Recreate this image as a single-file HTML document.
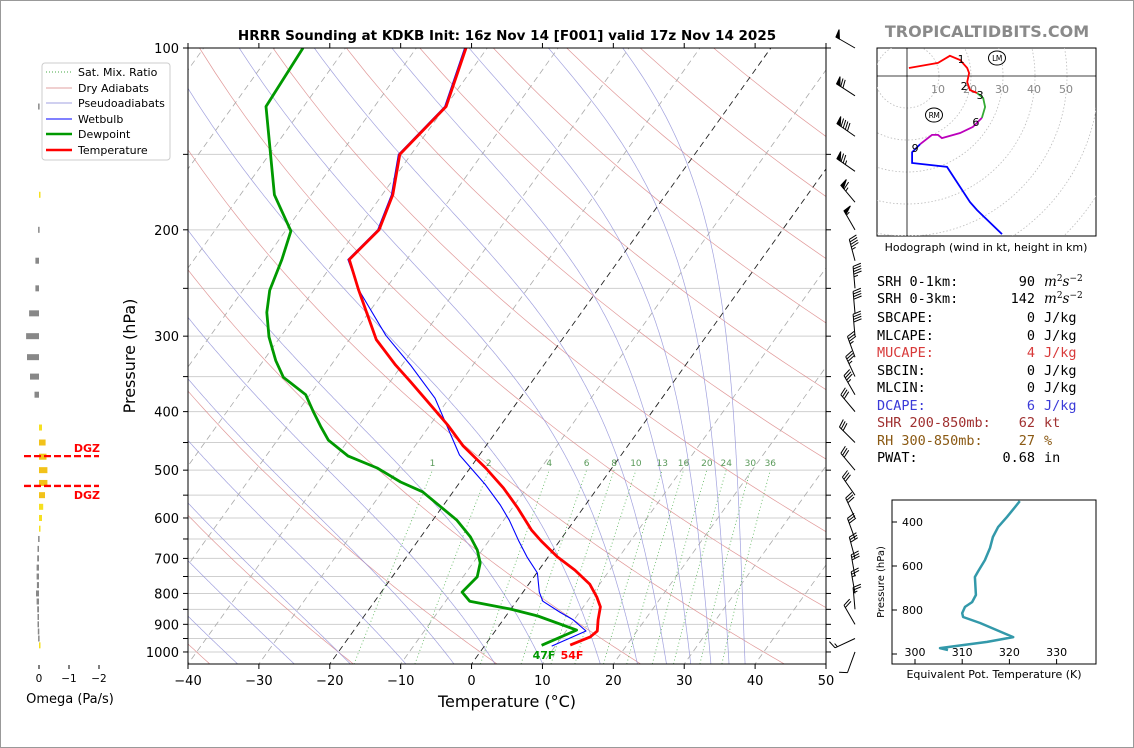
<!DOCTYPE html>
<html><head><meta charset="utf-8"><style>
html,body{margin:0;padding:0;background:#fff}
svg{display:block;font-family:"DejaVu Sans","Liberation Sans",sans-serif}
</style></head><body>
<svg id="chart" xmlns="http://www.w3.org/2000/svg" width="1134" height="748" viewBox="0 0 1134 748">
<rect x="0.5" y="0.5" width="1133" height="747" fill="#fff" stroke="#999"/>
<defs><clipPath id="mainClip"><rect x="188" y="48" width="638" height="616"/></clipPath>
<clipPath id="hodoClip"><rect x="877" y="48" width="219" height="188"/></clipPath>
<clipPath id="teClip"><rect x="892" y="500" width="204" height="164"/></clipPath></defs>
<g id="bg" clip-path="url(#mainClip)"></g>
<g id="profiles" clip-path="url(#mainClip)"></g>
<g id="axes"></g>
<g id="barbs"></g>
<g id="omega"></g>
<g id="hodo"></g>
<g id="te"></g>
<text x="507" y="40" text-anchor="middle" font-size="13.5" font-weight="bold">HRRR Sounding at KDKB Init: 16z Nov 14 [F001] valid 17z Nov 14 2025</text>
<text x="987" y="37" text-anchor="middle" font-size="16" font-weight="bold" fill="#8a8a8a">TROPICALTIDBITS.COM</text>
<text x="507" y="707" text-anchor="middle" font-size="16">Temperature (°C)</text>
<text transform="translate(135,356) rotate(-90)" text-anchor="middle" font-size="16">Pressure (hPa)</text>
<g>
<rect x="42" y="63" width="128" height="97" rx="3" fill="#fff" stroke="#ccc"/>
<g font-size="11">
<line x1="46" y1="72" x2="72" y2="72" stroke="#4a4" stroke-width="1" stroke-dasharray="1,2"/><text x="78" y="76">Sat. Mix. Ratio</text>
<line x1="46" y1="88" x2="72" y2="88" stroke="#e0a0a0"/><text x="78" y="92">Dry Adiabats</text>
<line x1="46" y1="103" x2="72" y2="103" stroke="#a0a0e0"/><text x="78" y="107">Pseudoadiabats</text>
<line x1="46" y1="119" x2="72" y2="119" stroke="#00f"/><text x="78" y="123">Wetbulb</text>
<line x1="46" y1="134" x2="72" y2="134" stroke="#090" stroke-width="2.5"/><text x="78" y="138">Dewpoint</text>
<line x1="46" y1="150" x2="72" y2="150" stroke="#f00" stroke-width="2.5"/><text x="78" y="154">Temperature</text>
</g></g>
<g font-family="DejaVu Sans Mono, Liberation Mono, monospace" font-size="13.5">
<text x="877" y="286">SRH 0-1km:</text><text x="1035" y="286" text-anchor="end">90</text><text x="1044" y="286" font-family="DejaVu Serif, serif" font-style="italic">m<tspan dy="-5" font-size="9" font-style="normal">2</tspan><tspan dy="5">s</tspan><tspan dy="-5" font-size="9" font-style="normal">−2</tspan></text>
<text x="877" y="303">SRH 0-3km:</text><text x="1035" y="303" text-anchor="end">142</text><text x="1044" y="303" font-family="DejaVu Serif, serif" font-style="italic">m<tspan dy="-5" font-size="9" font-style="normal">2</tspan><tspan dy="5">s</tspan><tspan dy="-5" font-size="9" font-style="normal">−2</tspan></text>
<text x="877" y="322">SBCAPE:</text><text x="1035" y="322" text-anchor="end">0</text><text x="1044" y="322">J/kg</text>
<text x="877" y="340">MLCAPE:</text><text x="1035" y="340" text-anchor="end">0</text><text x="1044" y="340">J/kg</text>
<g fill="#d83a3a"><text x="877" y="357">MUCAPE:</text><text x="1035" y="357" text-anchor="end">4</text><text x="1044" y="357">J/kg</text></g>
<text x="877" y="375">SBCIN:</text><text x="1035" y="375" text-anchor="end">0</text><text x="1044" y="375">J/kg</text>
<text x="877" y="392">MLCIN:</text><text x="1035" y="392" text-anchor="end">0</text><text x="1044" y="392">J/kg</text>
<g fill="#3a3ad8"><text x="877" y="410">DCAPE:</text><text x="1035" y="410" text-anchor="end">6</text><text x="1044" y="410">J/kg</text></g>
<g fill="#a03030"><text x="877" y="427">SHR 200-850mb:</text><text x="1035" y="427" text-anchor="end">62</text><text x="1044" y="427">kt</text></g>
<g fill="#8b5a14"><text x="877" y="445">RH 300-850mb:</text><text x="1035" y="445" text-anchor="end">27</text><text x="1044" y="445">%</text></g>
<text x="877" y="462">PWAT:</text><text x="1035" y="462" text-anchor="end">0.68</text><text x="1044" y="462">in</text>
</g>
</svg>
<script>
// ---- data ----
const tempP = [974,944,923,885,842,811,772,732,696,655,628,578,535,496,456,421,395,357,335,304,251,224,200,175,150,125,100];
const tempT = [12.0,14.0,14.4,13.4,12.4,10.9,8.6,5.1,1.3,-2.6,-5.1,-9.2,-13.3,-17.8,-23.2,-27.5,-31.2,-37.1,-40.9,-46.2,-53.8,-58.1,-56.9,-58.5,-61.6,-59.9,-63.0];
const dewP = [975,920,872,849,824,796,751,712,678,645,605,543,523,496,474,446,423,401,375,351,329,301,274,252,224,201,175,125,100];
const dewT = [8.0,11.4,4.5,-0.1,-6.6,-8.6,-8.0,-9.0,-10.7,-13.0,-16.6,-24.3,-28.4,-33.1,-38.4,-42.8,-45.3,-47.7,-50.6,-55.5,-58.3,-61.6,-64.4,-66.2,-67.6,-69.2,-75.2,-85.3,-86.0];
const wbP = [978,923,885,859,824,796,740,696,653,605,571,529,472,380,335,299,252,224,200,175,150,125,100];
const wbT = [9.5,12.8,9.9,7.2,3.7,2.3,0.1,-3.0,-5.9,-9.2,-12.0,-16.1,-22.8,-32.0,-38.8,-45.3,-53.6,-58.3,-57.1,-58.7,-61.8,-60.1,-63.2];
const mixRatios = [1,2,4,6,8,10,13,16,20,24,30,36];
const mixLabels = ["1","2","4","6","8","10","13","16","20","24","30","36"];
const dryT0 = [-40,-20,0,20,40,60,80,100,120,140,160,180,200];
const moistT0 = [-36,-28,-20,-12,-5,1,8,16.4,21.8,26,29.5,32.4,35,37.3];
const isoT = [-120,-110,-100,-90,-80,-70,-60,-50,-40,-30,-20,-10,0,10,20,30,40,50];
const pTicks = [100,200,300,400,500,600,700,800,900,1000];
const pGrid = [100,150,200,250,300,350,400,450,500,550,600,650,700,750,800,850,900,950,1000];
const tTicks = [-40,-30,-20,-10,0,10,20,30,40,50];
const barbP = [100,120,140,160,180,200,225,250,275,300,325,350,375,400,450,500,550,600,650,700,750,800,850,900,950,1000];
const barbDir = [300,303,305,305,320,330,345,355,355,355,340,335,330,320,315,320,325,335,340,345,350,350,355,330,245,200];
const barbSpd = [50,70,90,75,65,55,45,45,40,40,35,35,35,30,30,30,30,30,30,30,30,25,25,20,15,10];
const omegaP = [125,175,200,225,250,275,300,325,350,375,425,450,475,500,525,550,575,600,625,650,675,700,725,750,775,800,825,850,875,900,925,950,975];
const omegaV = [0.03,-0.05,0.03,0.12,0.12,0.33,0.43,0.4,0.3,0.15,-0.1,-0.22,-0.25,-0.28,-0.28,-0.2,-0.14,-0.1,-0.05,0.03,0.05,0.06,0.08,0.08,0.07,0.1,0.08,0.06,0.05,0.05,0.04,0.03,-0.03];
const dgzP = [474,531];
const omegaTicks = [0,-1,-2];
const hodoRedU = [0.6,9.7,13.4,16.6,18.8,19.4,18.8,19.7,21.9];
const hodoRedV = [2.5,4.1,6.3,5.0,2.5,0.9,-1.9,-4.4,-5.3];
const hodoGreenU = [21.9,23.8,24.4,23.4];
const hodoGreenV = [-5.3,-6.9,-9.7,-13.1];
const hodoMagU = [23.4,20.6,16.6,10.9,9.7,7.8,4.1];
const hodoMagV = [-13.1,-15.9,-17.8,-19.4,-18.4,-18.4,-21.3];
const hodoBlueU = [4.1,1.6,1.6,12.5,19.7,21.9,29.7];
const hodoBlueV = [-21.3,-23.8,-27.2,-28.4,-39.4,-41.9,-49.4];
const hodoRings = [10,20,30,40,50,60,70,80,90];
const hodoRingLabels = ["10","20","30","40","50"];
const teP = [305,332,377,423,468,518,573,627,650,732,764,786,814,832,859,923,945,973,982];
const teV = [322.2,321.2,319.5,317.6,316.5,315.9,314.8,313.3,312.7,312.9,312.1,310.6,310.0,310.2,313.8,320.8,315.3,305.3,307.0];
const teXTicks = [300,310,320,330];
const teYTicks = [400,600,800,1000];

// ---- axis functions ----
const NS="http://www.w3.org/2000/svg";
function yP(p){return 48+262.3*Math.log(p/100);}
function xT(t,p){return 188+(t+40)*(638/90)+(664-yP(p))*0.716;}
function mk(tag,attrs,parent){const e=document.createElementNS(NS,tag);for(const k in attrs)e.setAttribute(k,attrs[k]);parent.appendChild(e);return e;}
function pathD(pts){return pts.map((q,i)=>(i?'L':'M')+q[0].toFixed(1)+','+q[1].toFixed(1)).join('');}
const bg=document.getElementById('bg'), prof=document.getElementById('profiles'), axes=document.getElementById('axes');

// gridlines
pGrid.forEach(p=>{const l=mk('line',{x1:188,x2:826,y1:yP(p),y2:yP(p),stroke:'#cfcfcf','stroke-width':1},bg);

});
// dry adiabats
dryT0.forEach(t0=>{const th=t0+273.15;const pts=[];for(let p=1060;p>=95;p-=10){pts.push([xT(th*Math.pow(p/1000,0.2857)-273.15,p),yP(p)]);}
const e=mk('path',{d:pathD(pts),fill:'none',stroke:'#d98080','stroke-width':0.7,opacity:0.8},bg);

});
// moist adiabats
function lapse(T,p){const tc=T-273.15;const es=6.112*Math.exp(17.67*tc/(tc+243.5));const rs=0.622*es/(p-es);
return (1/p)*(287*T+2.501e6*rs)/(1005+2.501e6*2.501e6*rs*0.622/(287*T*T));}
moistT0.forEach(t0=>{let T=t0+273.15;const up=[[xT(t0,1000),yP(1000)]];for(let p=1000;p>100;p-=2){T-=lapse(T,p)*2;up.push([xT(T-273.15,p-2),yP(p-2)]);}
T=t0+273.15;const dn=[];for(let p=1000;p<1060;p+=2){T+=lapse(T,p)*2;dn.push([xT(T-273.15,p+2),yP(p+2)]);}
const pts=dn.reverse().concat(up);
const e=mk('path',{d:pathD(pts),fill:'none',stroke:'#9090d8','stroke-width':0.7,opacity:0.85},bg);

});
// isotherms
isoT.forEach(t=>{const e=mk('line',{x1:xT(t,1060),y1:yP(1060),x2:xT(t,95),y2:yP(95),stroke:(t===0||t===-20)?'#222':'#aaa','stroke-width':(t===0||t===-20)?0.9:0.8,'stroke-dasharray':'6,4'},bg);

});
// mixing ratio lines
function tdFromW(w,p){const e=w*p/(622+w);const l=Math.log(e/6.112);return 243.5*l/(17.67-l);}
mixRatios.forEach((w,i)=>{const pts=[];for(let p=1060;p>=500;p-=10)pts.push([xT(tdFromW(w,p),p),yP(p)]);
const e=mk('path',{d:pathD(pts),fill:'none',stroke:'#4a4','stroke-width':0.9,'stroke-dasharray':'1,2.5',opacity:0.8},bg);


const t=mk('text',{x:xT(tdFromW(w,500),500),y:yP(500)-4,'font-size':9,fill:'#5a9a5a','text-anchor':'middle'},bg);t.textContent=mixLabels[i];

});
// profiles
function prof_(P,T,col,w,name){const e=mk('path',{d:pathD(P.map((p,i)=>[xT(T[i],p),yP(p)])),fill:'none',stroke:col,'stroke-width':w,'stroke-linejoin':'round'},prof);

}
prof_(wbP,wbT,'#0000ff',1.1,'wetbulb-line');
prof_(dewP,dewT,'#009900',2.8,'dewpoint-line');
prof_(tempP,tempT,'#ff0000',2.8,'temperature-line');
const sl1=mk('text',{x:544,y:659,'font-size':11,'font-weight':'bold',fill:'#009900','text-anchor':'middle'},axes);sl1.textContent='47F';


const sl2=mk('text',{x:572,y:659,'font-size':11,'font-weight':'bold',fill:'#ff0000','text-anchor':'middle'},axes);sl2.textContent='54F';


// axes frame & ticks
const fr=mk('rect',{x:188,y:48,width:638,height:616,fill:'none',stroke:'#000','stroke-width':1},axes);


pGrid.forEach(p=>{mk('line',{x1:183,x2:188,y1:yP(p),y2:yP(p),stroke:'#000'},axes);mk('line',{x1:826,x2:831,y1:yP(p),y2:yP(p),stroke:'#000'},axes);});
pTicks.forEach(p=>{const t=mk('text',{x:179,y:yP(p)+5,'font-size':13,'text-anchor':'end'},axes);t.textContent=p;

});
tTicks.forEach(v=>{const x=188+(v+40)*(638/90);mk('line',{x1:x,x2:x,y1:664,y2:669,stroke:'#000'},axes);mk('line',{x1:x,x2:x,y1:43,y2:48,stroke:'#000'},axes);
const t=mk('text',{x:x,y:685,'font-size':13,'text-anchor':'middle'},axes);t.textContent=(v<0?'\u2212'+(-v):v);

});
// wind barbs
const bb=document.getElementById('barbs');
barbP.forEach((p,i)=>{const d=barbDir[i]*Math.PI/180;const ox=855,oy=yP(p);const sx=Math.sin(d),sy=-Math.cos(d);const px=-sy,py=sx;const L=22;
const g=mk('g',{stroke:'#000','stroke-width':1,fill:'#000'},bb);


mk('line',{x1:ox,y1:oy,x2:ox+sx*L,y2:oy+sy*L},g);
let s=Math.round(barbSpd[i]/5)*5;let pos=L;
while(s>=50){const ax=ox+sx*pos,ay=oy+sy*pos,bx=ox+sx*(pos-4),by=oy+sy*(pos-4);mk('polygon',{points:`${ax},${ay} ${ax+px*8+sx*1},${ay+py*8+sy*1} ${bx},${by}`},g);pos-=5;s-=50;}
while(s>=10){const ax=ox+sx*pos,ay=oy+sy*pos;mk('line',{x1:ax,y1:ay,x2:ax+px*8+sx*2.5,y2:ay+py*8+sy*2.5},g);pos-=2.6;s-=10;}
if(s>=5){if(pos===L)pos-=3;const ax=ox+sx*pos,ay=oy+sy*pos;mk('line',{x1:ax,y1:ay,x2:ax+px*4+sx*1.2,y2:ay+py*4+sy*1.2},g);}
});
// omega panel
const om=document.getElementById('omega');
function xO(v){return 39-v*30;}
omegaP.forEach((p,i)=>{const v=omegaV[i];const x0=Math.min(xO(0),xO(v)),w=Math.max(Math.abs(xO(v)-xO(0)),1.5);
const r=mk('rect',{x:x0,y:yP(p)-3,width:w,height:6,fill:v>0?'#888':(v<-0.15?'#f2c21a':'#f6e020')},om);

});
dgzP.forEach((p,i)=>{const l=mk('line',{x1:24,x2:99,y1:yP(p),y2:yP(p),stroke:'#f00','stroke-width':2.3,'stroke-dasharray':'7,3'},om);


const t=mk('text',{x:100,y:i===0?yP(p)-4:yP(p)+13,'font-size':11,'font-weight':'bold',fill:'#f00','text-anchor':'end'},om);t.textContent='DGZ';

});
omegaTicks.forEach(v=>{mk('line',{x1:xO(v),x2:xO(v),y1:665,y2:669,stroke:'#000'},om);
const t=mk('text',{x:xO(v),y:682,'font-size':10.5,'text-anchor':'middle'},om);t.textContent=v<0?'\u2212'+(-v):v;

});
const ot=mk('text',{x:70,y:703,'font-size':13,'text-anchor':'middle'},om);ot.textContent='Omega (Pa/s)';


// hodograph
const hd=document.getElementById('hodo');const HX=907,HY=76,HK=3.2;
const hb=mk('rect',{x:877,y:48,width:219,height:188,fill:'#fff',stroke:'#000','stroke-width':1},hd);


const hc=mk('g',{'clip-path':'url(#hodoClip)'},hd);
hodoRings.forEach(r=>{const c=mk('circle',{cx:HX,cy:HY,r:r*HK,fill:'none',stroke:'#bbb','stroke-width':0.8,'stroke-dasharray':'1.5,2'},hc);

});
mk('line',{x1:877,x2:1096,y1:HY,y2:HY,stroke:'#000','stroke-width':0.8},hc);
mk('line',{x1:HX,x2:HX,y1:48,y2:236,stroke:'#000','stroke-width':0.8},hc);
hodoRingLabels.forEach((s,i)=>{const t=mk('text',{x:HX+(i+1)*10*HK-1,y:HY+17,'font-size':11,fill:'#888','text-anchor':'middle'},hc);t.textContent=s;

});
function hseg(U,V,col,name){const e=mk('path',{d:pathD(U.map((u,i)=>[HX+u*HK,HY-V[i]*HK])),fill:'none',stroke:col,'stroke-width':1.8},hc);

}
hseg(hodoRedU,hodoRedV,'#f00','hodograph-0-3km');
hseg(hodoGreenU,hodoGreenV,'#3a3','hodograph-3-6km');
hseg(hodoMagU,hodoMagV,'#b0b','hodograph-6-9km');
hseg(hodoBlueU,hodoBlueV,'#00f','hodograph-9km-plus');
[['1',hodoRedU[3],hodoRedV[3],1,3],['2',hodoRedU[6],hodoRedV[6],-3,8],['3',hodoRedU[8],hodoRedV[8],3,6],['6',hodoGreenU[3],hodoGreenV[3],-6,8],['9',hodoMagU[6],hodoMagV[6],-5,8]].forEach(a=>{
const t=mk('text',{x:HX+a[1]*HK+a[3],y:HY-a[2]*HK+a[4],'font-size':11,'text-anchor':'middle'},hc);t.textContent=a[0];

});
[['LM',997,58],['RM',934,115]].forEach(a=>{mk('ellipse',{cx:a[1],cy:a[2],rx:8.5,ry:7,fill:'none',stroke:'#000','stroke-width':1},hc);
const t=mk('text',{x:a[1],y:a[2]+3,'font-size':7.5,'text-anchor':'middle','letter-spacing':'-0.5'},hc);t.textContent=a[0];

});
const hcap=mk('text',{x:986,y:251,'font-size':11,'text-anchor':'middle'},hd);hcap.textContent='Hodograph (wind in kt, height in km)';


// theta-e panel
const te=document.getElementById('te');
function xE(v){return 915+(v-300)*4.72;}
function yE(p){return 522+(p-400)*0.22;}
const tb=mk('rect',{x:892,y:500,width:204,height:164,fill:'#fff',stroke:'#000','stroke-width':1},te);


teXTicks.forEach(v=>{mk('line',{x1:xE(v),x2:xE(v),y1:664,y2:659,stroke:'#000'},te);
const t=mk('text',{x:xE(v),y:656,'font-size':11,'text-anchor':'middle'},te);t.textContent=v;

});
teYTicks.forEach(p=>{mk('line',{x1:892,x2:897,y1:yE(p),y2:yE(p),stroke:'#000'},te);
if(p<1000){const t=mk('text',{x:902,y:yE(p)+4,'font-size':11},te);t.textContent=p;

}});
const tl=mk('path',{d:pathD(teP.map((p,i)=>[xE(teV[i]),yE(p)])),fill:'none',stroke:'#3399aa','stroke-width':2.5,'stroke-linejoin':'round','clip-path':'url(#teClip)'},te);


const tx=mk('text',{x:994,y:678,'font-size':11,'text-anchor':'middle'},te);tx.textContent='Equivalent Pot. Temperature (K)';


const ty=mk('text',{transform:'translate(884,582) rotate(-90)','font-size':10,'text-anchor':'middle'},te);ty.textContent='Pressure (hPa)';


</script>
</body></html>
